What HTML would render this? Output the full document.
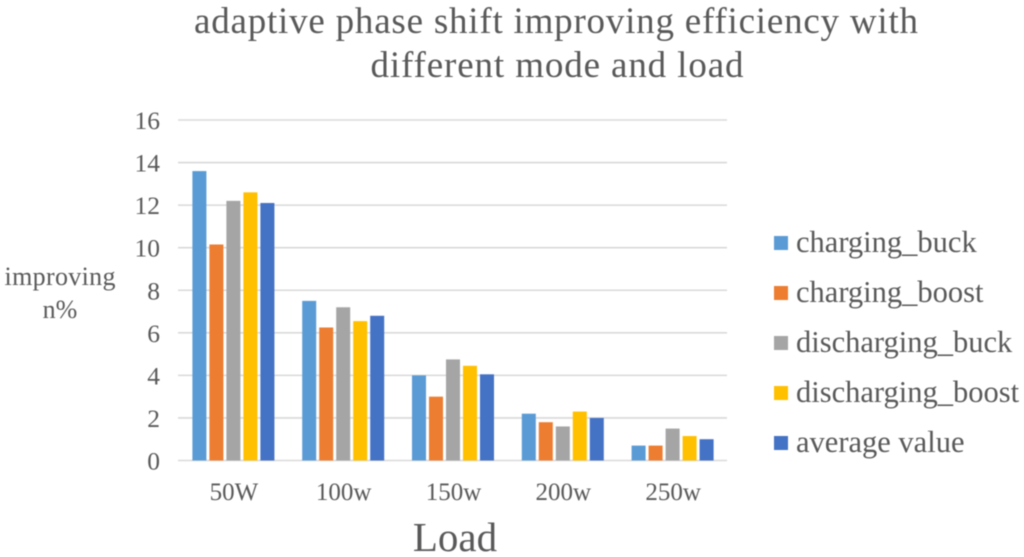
<!DOCTYPE html>
<html lang="en">
<head>
<meta charset="utf-8">
<title>Adaptive phase shift improving efficiency</title>
<style>
html,body{margin:0;padding:0;background:#fff;}
body{width:1024px;height:557px;overflow:hidden;}
svg{display:block;filter:blur(0.55px);}
text{font-family:"Liberation Serif",serif;fill:#595959;}
</style>
</head>
<body>
<svg id="chart" xmlns="http://www.w3.org/2000/svg" width="1024" height="557" viewBox="0 0 1024 557">
<text x="556" y="33" font-size="37" text-anchor="middle" textLength="724" lengthAdjust="spacing">adaptive phase shift improving efficiency with</text>
<text x="557" y="77" font-size="37" text-anchor="middle" textLength="373" lengthAdjust="spacing">different mode and load</text>
<text x="60" y="285" font-size="26" text-anchor="middle" textLength="111" lengthAdjust="spacing">improving</text>
<text x="60" y="318" font-size="26" text-anchor="middle">n%</text>
<text x="455" y="551" font-size="41" text-anchor="middle">Load</text>
<g id="grid"></g>
<g id="bars"></g>
<g id="labels"></g>
<g id="legend"></g>
</svg>
<script>
const categories = ['50W', '100w', '150w', '200w', '250w'];
const yTicks = [0, 2, 4, 6, 8, 10, 12, 14, 16];
const seriesNames = ['charging_buck', 'charging_boost', 'discharging_buck', 'discharging_boost', 'average value'];
const seriesColors = ['#5b9bd5', '#ed7d31', '#a5a5a5', '#ffc000', '#4472c4'];
const chargingBuck = [13.6, 7.5, 4.0, 2.2, 0.7];
const chargingBoost = [10.15, 6.25, 3.0, 1.8, 0.7];
const dischargingBuck = [12.2, 7.2, 4.75, 1.6, 1.5];
const dischargingBoost = [12.6, 6.55, 4.45, 2.3, 1.15];
const averageValue = [12.1, 6.8, 4.05, 2.0, 1.0];
const allSeries = [chargingBuck, chargingBoost, dischargingBuck, dischargingBoost, averageValue];

const NS = 'http://www.w3.org/2000/svg';
const plot = { left: 178, right: 727, top: 120, bottom: 460.5 };
const yMax = 16;
const barWidth = 14;
const barStep = 17;
const y = v => plot.bottom - (v / yMax) * (plot.bottom - plot.top);
const xCenter = i => plot.left + (i + 0.5) * (plot.right - plot.left) / categories.length;
const xBar = (i, s) => xCenter(i) - (barStep * (allSeries.length - 1) + barWidth) / 2 + s * barStep + 0.5;
function make(tag, attrs, parent) {
  const el = document.createElementNS(NS, tag);
  for (const k in attrs) el.setAttribute(k, attrs[k]);
  parent.appendChild(el);
  return el;
}
const grid = document.getElementById('grid');
const bars = document.getElementById('bars');
const labels = document.getElementById('labels');
const legend = document.getElementById('legend');

yTicks.forEach(t => {
  const line = make('line', { x1: plot.left, x2: plot.right, y1: y(t), y2: y(t), stroke: '#d9d9d9', 'stroke-width': 1.6 }, grid);
  
  
  const label = make('text', { x: 160, y: y(t) + 9, 'font-size': 25.5, 'text-anchor': 'end' }, labels);
  label.textContent = t;
  
  
});
categories.forEach((c, i) => {
  const label = make('text', { x: xCenter(i) + 1, y: 500, 'font-size': 25, 'text-anchor': 'middle' }, labels);
  label.textContent = c;
  
  
  allSeries.forEach((values, s) => {
    const bar = make('rect', { x: xBar(i, s), y: y(values[i]), width: barWidth, height: plot.bottom - y(values[i]), fill: seriesColors[s] }, bars);
    
    
  });
});
seriesNames.forEach((n, s) => {
  const rowY = 243 + s * 50;
  const swatch = make('rect', { x: 774, y: rowY - 7, width: 14, height: 14, fill: seriesColors[s] }, legend);
  
  
  const label = make('text', { x: 796, y: rowY + 9, 'font-size': 30.5 }, legend);
  label.textContent = n;
  
  
});
</script>
</body>
</html>
